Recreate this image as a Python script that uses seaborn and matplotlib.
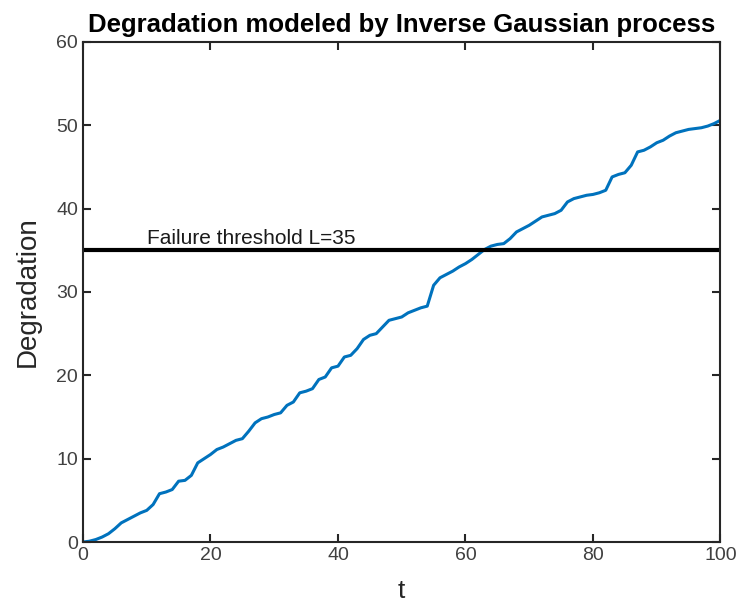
import numpy as np
import pandas as pd
import matplotlib.pyplot as plt
import seaborn as sns

sns.set_theme(style="white")
plt.rcParams['font.family'] = ['Liberation Sans', 'DejaVu Sans']

# Dados
t = np.arange(0, 101)
degradacao = [
    0.0, 0.1, 0.3, 0.6, 1.0, 1.6, 2.3, 2.7, 3.1, 3.5,
    3.8, 4.5, 5.8, 6.0, 6.3, 7.3, 7.4, 8.0, 9.5, 10.0,
    10.5, 11.1, 11.4, 11.8, 12.2, 12.4, 13.3, 14.3, 14.8, 15.0,
    15.3, 15.5, 16.4, 16.8, 17.9, 18.1, 18.4, 19.5, 19.8, 20.9,
    21.1, 22.2, 22.4, 23.2, 24.3, 24.8, 25.0, 25.8, 26.6, 26.8,
    27.0, 27.5, 27.8, 28.1, 28.3, 30.8, 31.7, 32.1, 32.5, 33.0,
    33.4, 33.9, 34.5, 35.1, 35.5, 35.7, 35.8, 36.4, 37.2, 37.6,
    38.0, 38.5, 39.0, 39.2, 39.4, 39.8, 40.8, 41.2, 41.4, 41.6,
    41.7, 41.9, 42.2, 43.8, 44.1, 44.3, 45.2, 46.8, 47.0, 47.4,
    47.9, 48.2, 48.7, 49.1, 49.3, 49.5, 49.6, 49.7, 49.9, 50.2,
    50.6,
]
limiar = 35

df = pd.DataFrame({'t': t, 'Degradation': degradacao})

fig = plt.figure(figsize=(7.37, 6.07), dpi=100)
ax = fig.add_axes([0.1126, 0.107, 0.865, 0.824])

sns.lineplot(data=df, x='t', y='Degradation', color='#0072BD', linewidth=2.2, ax=ax)
ax.axhline(limiar, color='black', linewidth=3)
ax.text(10, limiar + 0.8, f"Failure threshold L={limiar}", fontsize=15, color='#1a1a1a')

ax.set_xlim(0, 100)
ax.set_ylim(0, 60)
ax.set_xticks([0, 20, 40, 60, 80, 100])
ax.set_yticks([0, 10, 20, 30, 40, 50, 60])
ax.set_title("Degradation modeled by Inverse Gaussian process", fontsize=18.5, fontweight='bold',
             color='black', pad=7)
ax.set_xlabel("t", fontsize=19, color='#262626', labelpad=11)
ax.set_ylabel("Degradation", fontsize=20, color='#262626', labelpad=11)

for s in ax.spines.values():
    s.set_color('#262626')
    s.set_linewidth(1.5)
ax.tick_params(direction='in', length=6, width=1.5, top=True, right=True, bottom=True, left=True,
               labelsize=14, labelcolor='#404040', color='#262626')

plt.savefig("out.png", dpi=100)
